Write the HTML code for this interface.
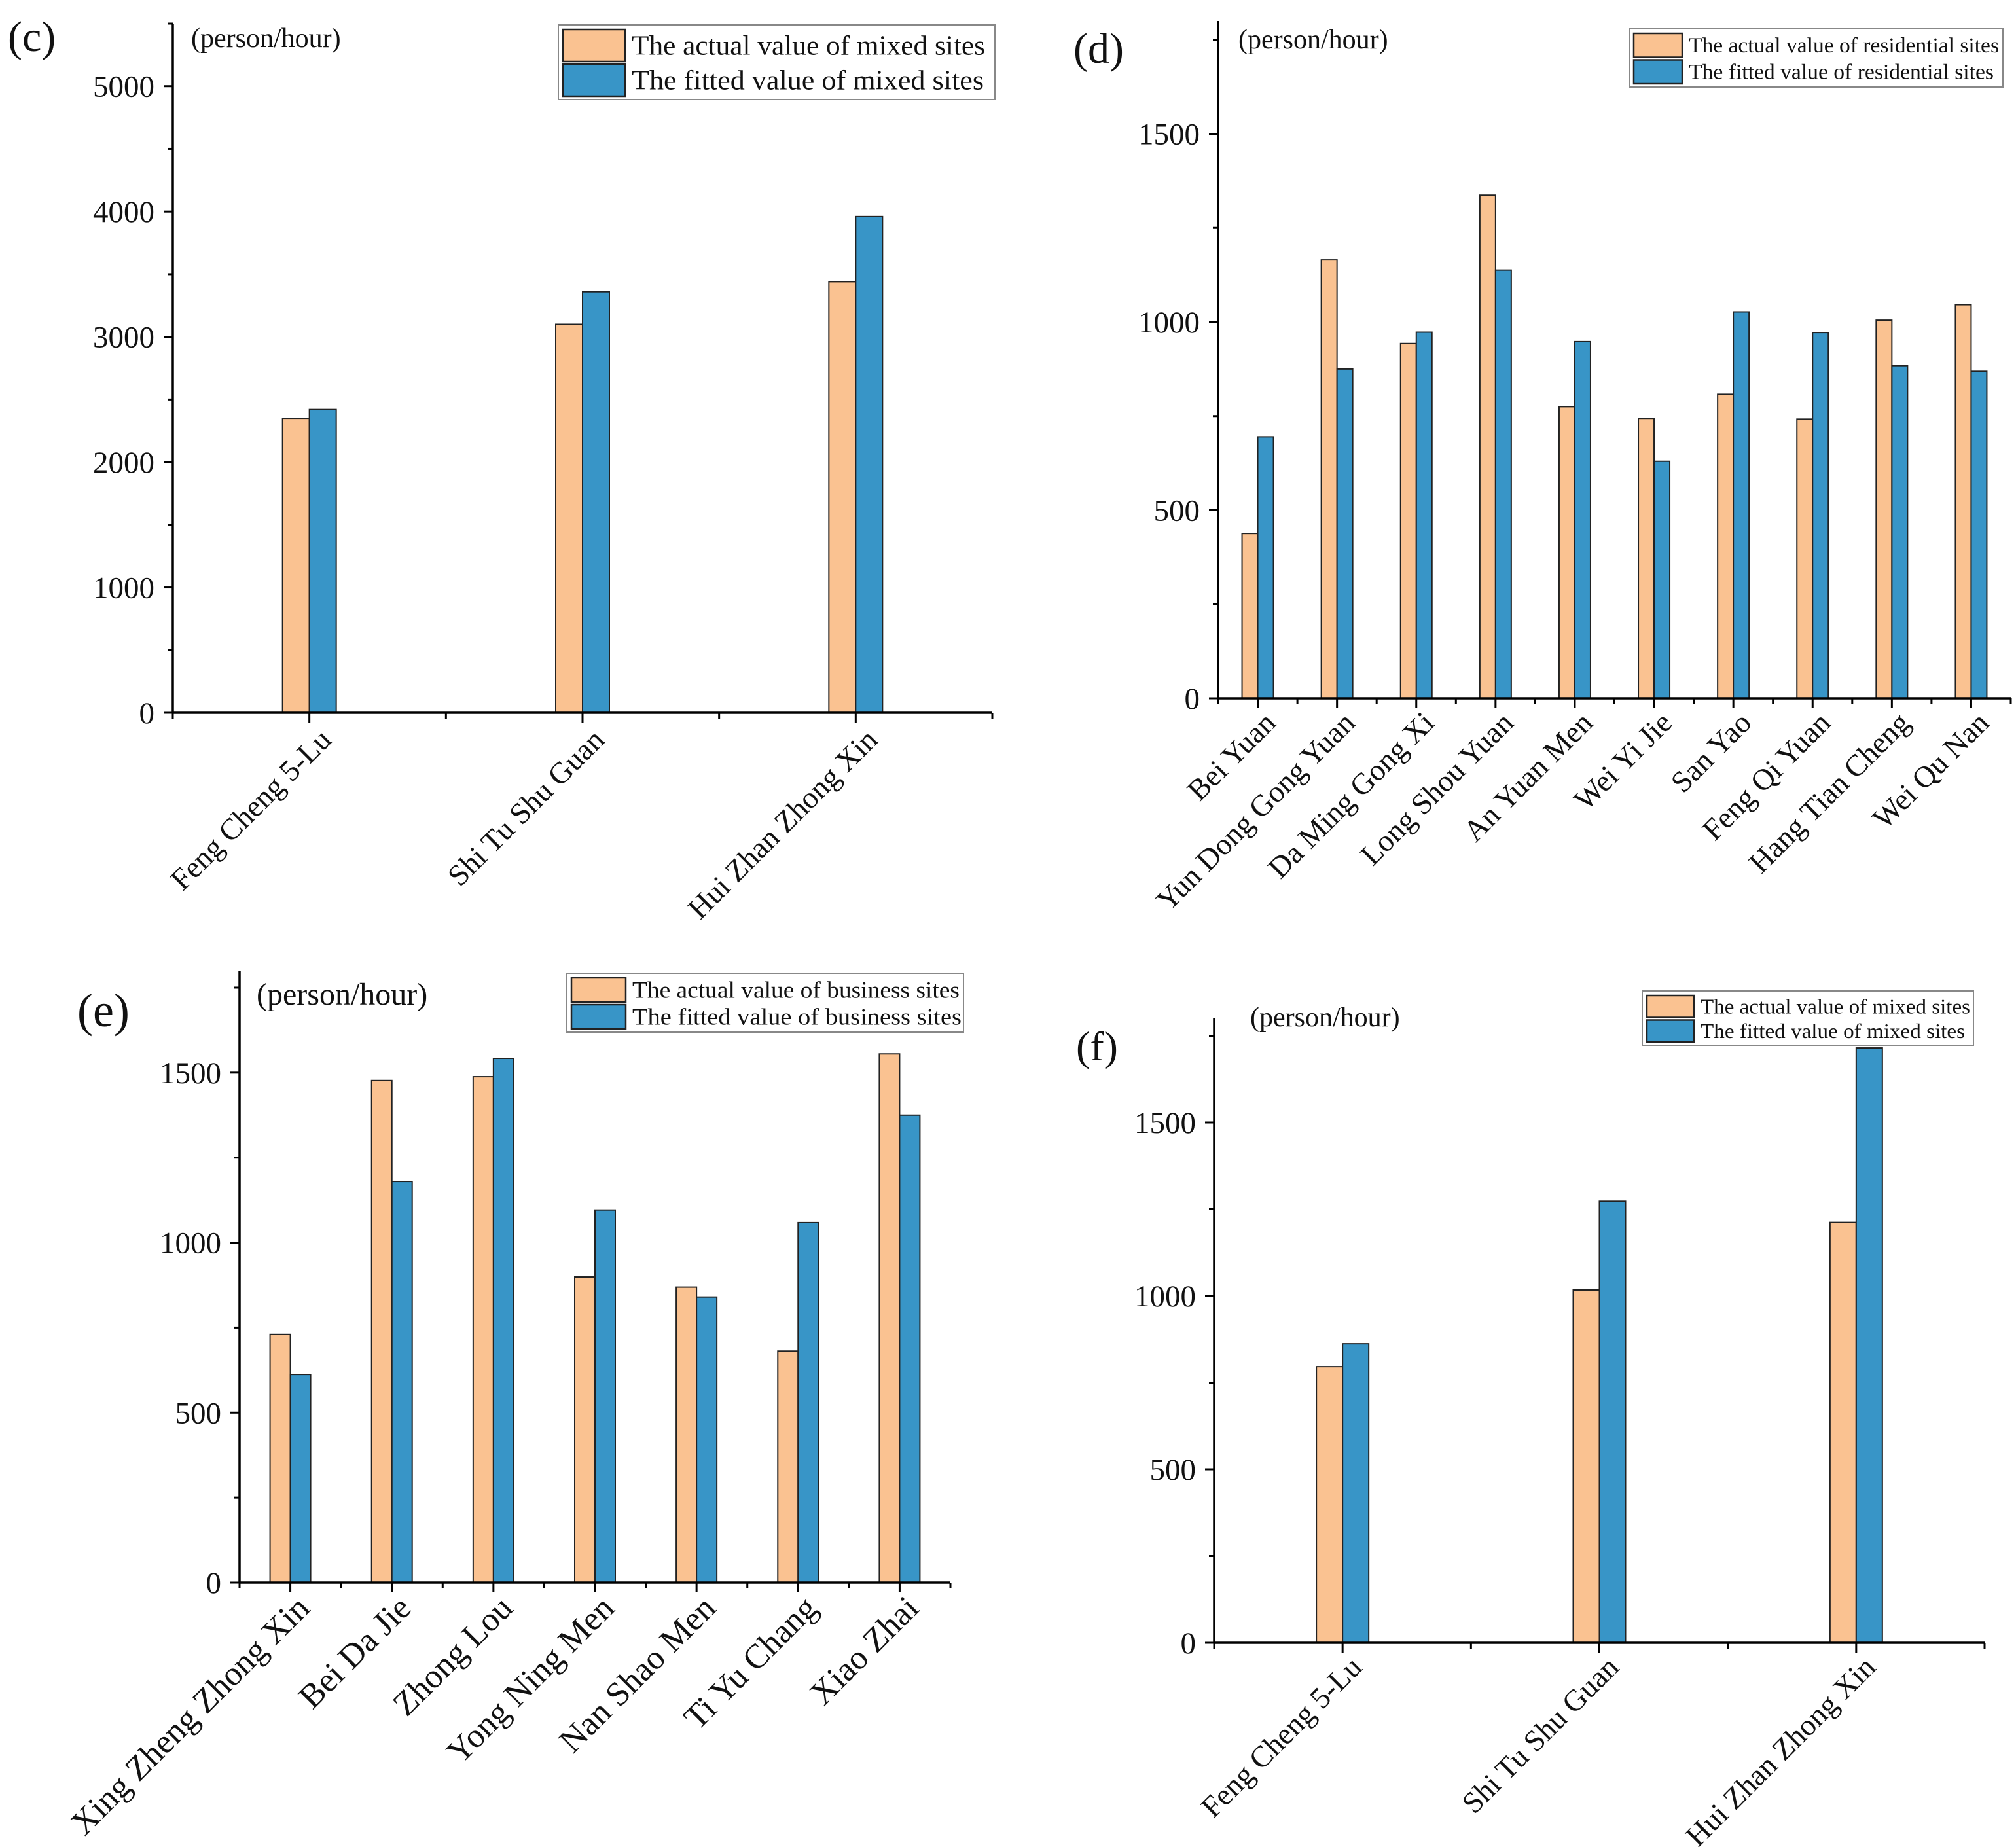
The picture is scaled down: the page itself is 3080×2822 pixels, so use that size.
<!DOCTYPE html>
<html><head><meta charset="utf-8"><style>
html,body{margin:0;padding:0;background:#fff;}
svg{display:block;font-family:"Liberation Serif","Times New Roman",serif;}
</style></head><body>
<svg id="fig" width="3080" height="2822" viewBox="0 0 3080 2822" xmlns="http://www.w3.org/2000/svg"></svg>
<script>
// ---- data ----
const catsC = ["Feng Cheng 5-Lu","Shi Tu Shu Guan","Hui Zhan Zhong Xin"];
const actualC = [2350, 3100, 3440];
const fittedC = [2420, 3360, 3960];
const ticksC = [0,1000,2000,3000,4000,5000];

const catsD = ["Bei Yuan","Yun Dong Gong Yuan","Da Ming Gong Xi","Long Shou Yuan","An Yuan Men","Wei Yi Jie","San Yao","Feng Qi Yuan","Hang Tian Cheng","Wei Qu Nan"];
const actualD = [438, 1165, 943, 1337, 775, 744, 808, 742, 1005, 1046];
const fittedD = [695, 875, 973, 1138, 948, 630, 1027, 972, 884, 869];
const ticksD = [0,500,1000,1500];

const catsE = ["Xing Zheng Zhong Xin","Bei Da Jie","Zhong Lou","Yong Ning Men","Nan Shao Men","Ti Yu Chang","Xiao Zhai"];
const actualE = [730, 1477, 1488, 899, 869, 681, 1555];
const fittedE = [612, 1180, 1542, 1096, 840, 1059, 1375];
const ticksE = [0,500,1000,1500];

const catsF = ["Feng Cheng 5-Lu","Shi Tu Shu Guan","Hui Zhan Zhong Xin"];
const actualF = [796, 1017, 1212];
const fittedF = [862, 1273, 1715];
const ticksF = [0,500,1000,1500];

const ORANGE = "#FAC291", BLUE = "#3895C7";
const NS = "http://www.w3.org/2000/svg";
const svg = document.getElementById('fig');
function mk(tag, attrs, parent){ const e=document.createElementNS(NS,tag); for(const k in attrs) e.setAttribute(k,attrs[k]); (parent||svg).appendChild(e); return e; }

function panel(cfg, cats, actual, fitted, ticks){
  const g = mk('g',{});
  
  
  const yScale = v => cfg.y0 - (v / cfg.ymax) * (cfg.y0 - cfg.yTop);
  const step = (cfg.x1 - cfg.x0) / cats.length;
  const xc = i => cfg.x0 + step * (i + 0.5);
  cats.forEach((c,i)=>{
    const a = mk('rect',{x:xc(i)-cfg.bw, y:yScale(actual[i]), width:cfg.bw, height:cfg.y0-yScale(actual[i]), fill:ORANGE, stroke:'#222', 'stroke-width':2}, g);
    
    
    const b = mk('rect',{x:xc(i), y:yScale(fitted[i]), width:cfg.bw, height:cfg.y0-yScale(fitted[i]), fill:BLUE, stroke:'#222', 'stroke-width':2}, g);
    
    
  });
  const ya = mk('line',{x1:cfg.x0,y1:cfg.yTop,x2:cfg.x0,y2:cfg.y0+1.5,stroke:'#000','stroke-width':3.5}, g);
  
  
  const xa = mk('line',{x1:cfg.x0-1.5,y1:cfg.y0,x2:cfg.x1,y2:cfg.y0,stroke:'#000','stroke-width':3.5}, g);
  
  
  const tstep = ticks[1]-ticks[0];
  for(let v=0; v<=cfg.ymax+1; v+=tstep/2){
    const major = Math.abs(v/tstep - Math.round(v/tstep))<1e-6;
    mk('line',{x1:cfg.x0-(major?14:8),y1:yScale(v),x2:cfg.x0,y2:yScale(v),stroke:'#000','stroke-width':3}, g);
  }
  ticks.forEach(v=>{
    const t = mk('text',{x:cfg.x0-28,y:yScale(v)+cfg.tf*0.34,'text-anchor':'end','font-size':cfg.tf,fill:'#111'}, g);
    t.textContent = v;
    
    
  });
  for(let i=0;i<=cats.length;i++){
    mk('line',{x1:cfg.x0+step*i,y1:cfg.y0,x2:cfg.x0+step*i,y2:cfg.y0+9,stroke:'#000','stroke-width':3}, g);
  }
  cats.forEach((c,i)=>{
    mk('line',{x1:xc(i),y1:cfg.y0,x2:xc(i),y2:cfg.y0+15,stroke:'#000','stroke-width':3}, g);
    const ax = xc(i)+cfg.lx, ay = cfg.y0+cfg.ly;
    const t = mk('text',{x:ax,y:ay,'text-anchor':'end','font-size':cfg.xf,fill:'#111',transform:`rotate(-45 ${ax} ${ay})`}, g);
    t.textContent = c;
    
    
  });
  const p = mk('text',{x:cfg.px,y:cfg.py,'font-size':cfg.pf,fill:'#111'}, g);
  p.textContent = cfg.letter;
  
  
  const u = mk('text',{x:cfg.ux,y:cfg.uy,'font-size':cfg.uf,fill:'#111'}, g);
  u.textContent = '(person/hour)';
  
  
  const L = cfg.leg;
  const lg = mk('g',{}, g);
  
  
  mk('rect',{x:L.x,y:L.y,width:L.w,height:L.h,fill:'#fff',stroke:'#888','stroke-width':2}, lg);
  const rh = (L.h-8)/2;
  [[ORANGE,L.t1],[BLUE,L.t2]].forEach((d,k)=>{
    const sy = L.y+5+k*rh;
    mk('rect',{x:L.x+7,y:sy+2,width:L.sw,height:rh-4,fill:d[0],stroke:'#222','stroke-width':2.5}, lg);
    const t = mk('text',{x:L.x+L.sw+17,y:sy+rh*0.5+L.f*0.33,'font-size':L.f,fill:'#111',textLength:L.tl[k],lengthAdjust:'spacingAndGlyphs'}, lg);
    t.textContent = d[1];
    
    
  });
}

panel({id:'c',x0:264,x1:1516,y0:1089,yTop:36,ymax:5500,bw:41,tf:47,xf:46,lx:36,ly:44,
  letter:'(c)',px:12,py:78,pf:66,ux:292,uy:72,uf:42,
  leg:{x:853,y:38,w:667,h:114,sw:95,f:42,t1:'The actual value of mixed sites',t2:'The fitted value of mixed sites',tl:[540,538]}},
  catsC, actualC, fittedC, ticksC);

panel({id:'d',x0:1861,x1:3072,y0:1067,yTop:32,ymax:1800,bw:24,tf:47,xf:46,lx:30,ly:40,
  letter:'(d)',px:1640,py:96,pf:66,ux:1892,uy:74,uf:42,
  leg:{x:2489,y:44,w:571,h:89,sw:74,f:33,t1:'The actual value of residential sites',t2:'The fitted value of residential sites',tl:[474,466]}},
  catsD, actualD, fittedD, ticksD);

panel({id:'e',x0:366,x1:1452,y0:2418,yTop:1483,ymax:1800,bw:31,tf:47,xf:52,lx:32,ly:42,
  letter:'(e)',px:118,py:1568,pf:72,ux:392,uy:1535,uf:48,
  leg:{x:866,y:1487,w:606,h:90,sw:83,f:36,t1:'The actual value of business sites',t2:'The fitted value of  business sites',tl:[500,503]}},
  catsE, actualE, fittedE, ticksE);

panel({id:'f',x0:1855,x1:3032,y0:2510,yTop:1556,ymax:1800,bw:40,tf:47,xf:46,lx:32,ly:40,
  letter:'(f)',px:1644,py:1620,pf:64,ux:1910,uy:1568,uf:42,
  leg:{x:2509,y:1514,w:506,h:83,sw:72,f:32,t1:'The actual value of mixed sites',t2:'The fitted value of mixed sites',tl:[412,404]}},
  catsF, actualF, fittedF, ticksF);
</script>
</body></html>
